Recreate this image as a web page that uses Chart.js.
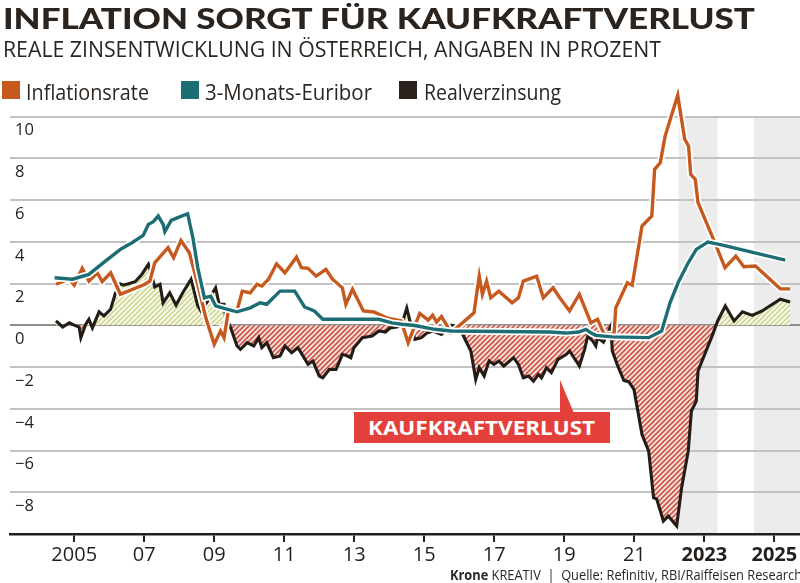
<!DOCTYPE html>
<html lang="de">
<head>
<meta charset="utf-8">
<title>Inflation sorgt für Kaufkraftverlust</title>
<script src="https://cdn.jsdelivr.net/npm/chart.js@4.4.1/dist/chart.umd.min.js"></script>
<style>
  html, body { margin: 0; padding: 0; background: #fff; }
  #wrap { position: relative; width: 800px; height: 583px; overflow: hidden; background: #fff; }
  #c { position: absolute; left: 0; top: 0; }
  .t { position: absolute; white-space: nowrap; transform-origin: 0 0; color: #2a2420; margin: 0; }
  #title { font-family: Lato, "Open Sans", sans-serif; font-weight: 900; font-size: 29px; color: #2b231d; }
  #subtitle { font-family: "Open Sans", sans-serif; font-weight: 400; font-size: 21px; color: #2b2622; }
  .leg { font-family: "Open Sans", sans-serif; font-weight: 400; font-size: 21px; color: #2b2622; }
  .sq { position: absolute; width: 18px; height: 18px; top: 81px; }
  #footer { font-family: "Open Sans", sans-serif; font-size: 14px; color: #2b2622; }
  #footer b { font-weight: 700; }
  #calloutBox { position: absolute; background: #e4403b; }
  #calloutTip { position: absolute; background: #e4403b; clip-path: polygon(0 0, 0 100%, 100% 100%); }
  #callout { font-family: "Open Sans", sans-serif; font-weight: 700; font-size: 20px; color: #fff; }
</style>
</head>
<body>
<div id="wrap">
  <canvas id="c" width="800" height="583"></canvas>
  <div class="t" id="title">INFLATION SORGT FÜR KAUFKRAFTVERLUST</div>
  <div class="t" id="subtitle">REALE ZINSENTWICKLUNG IN ÖSTERREICH, ANGABEN IN PROZENT</div>
  <div class="sq" style="left:2px;background:#c65a1e"></div>
  <div class="t leg" id="leg1">Inflationsrate</div>
  <div class="sq" style="left:181px;background:#1d6d74"></div>
  <div class="t leg" id="leg2">3-Monats-Euribor</div>
  <div class="sq" style="left:399px;background:#2a211c"></div>
  <div class="t leg" id="leg3">Realverzinsung</div>
  <div id="calloutTip"></div>
  <div id="calloutBox"></div>
  <div class="t" id="callout">KAUFKRAFTVERLUST</div>
  <div class="t" id="footer"><b>Krone</b> KREATIV&nbsp; | &nbsp;Quelle: Refinitiv, RBI/Raiffeisen Research</div>
</div>
<script>
// ---------- data ----------
const tickYears = [2005, 2007, 2009, 2011, 2013, 2015, 2017, 2019, 2021, 2023, 2025];
const forecastBands = [[2022.26, 2023.38], [2024.42, 2026.0]];

const inflationX = [2004.48,2004.86,2005.00,2005.23,2005.42,2005.66,2005.80,2006.04,2006.32,2007.02,2007.16,2007.30,2007.68,2007.84,2008.05,2008.29,2008.53,2008.76,2009.00,2009.18,2009.28,2009.42,2009.65,2009.80,2010.03,2010.22,2010.36,2010.55,2010.78,2011.02,2011.35,2011.49,2011.68,2011.91,2012.19,2012.38,2012.66,2012.76,2012.95,2013.26,2013.56,2013.93,2014.34,2014.54,2014.87,2015.11,2015.24,2015.35,2015.49,2015.77,2016.42,2016.57,2016.66,2016.78,2016.90,2017.13,2017.51,2017.69,2017.83,2018.21,2018.40,2018.68,2018.87,2019.15,2019.43,2019.76,2019.95,2020.14,2020.42,2020.47,2020.80,2020.94,2021.22,2021.50,2021.58,2021.74,2021.88,2022.24,2022.44,2022.55,2022.61,2022.74,2022.82,2023.24,2023.59,2023.90,2024.13,2024.46,2025.17,2025.45];
const inflationY = [1.97,2.21,1.93,2.73,2.12,2.52,2.09,2.52,1.49,1.97,2.12,3.00,3.72,3.24,4.07,3.48,1.97,0.36,-0.91,-0.27,-0.59,0.84,0.69,1.64,1.56,1.97,1.88,2.21,2.95,2.52,3.27,2.76,2.73,2.36,2.68,2.21,1.80,1.01,1.73,0.69,0.64,0.36,0.21,-0.83,0.57,0.25,0.49,0.16,0.42,-0.35,0.60,2.36,1.49,2.12,1.32,1.64,1.08,1.32,2.12,2.36,1.32,1.80,1.32,0.69,1.49,0.12,0.29,-0.43,-0.43,0.84,2.04,1.92,4.76,5.24,7.48,7.79,9.07,11.03,8.92,8.60,7.24,7.00,5.88,4.20,2.76,3.32,2.81,2.84,1.75,1.75];

const euriborX = [2004.44,2004.95,2005.42,2005.89,2006.32,2006.65,2006.97,2007.12,2007.26,2007.40,2007.54,2007.59,2007.77,2007.96,2008.24,2008.39,2008.53,2008.72,2008.90,2009.04,2009.28,2009.65,2010.03,2010.31,2010.50,2010.88,2011.30,2011.58,2011.86,2012.10,2013.70,2014.07,2014.36,2014.73,2015.30,2015.77,2018.59,2019.05,2019.41,2019.62,2019.75,2019.90,2020.37,2021.41,2021.78,2022.02,2022.25,2022.54,2022.77,2023.10,2023.43,2025.31];
const euriborY = [2.28,2.21,2.44,3.08,3.64,3.96,4.31,4.84,4.97,5.24,4.84,4.49,5.03,5.16,5.35,4.20,2.76,1.32,1.40,0.93,0.81,0.65,0.84,1.08,1.01,1.64,1.64,0.88,0.69,0.29,0.29,0.12,0.05,-0.01,-0.19,-0.27,-0.32,-0.37,-0.32,-0.19,-0.35,-0.48,-0.55,-0.59,-0.27,1.08,2.04,3.00,3.64,3.99,3.88,3.13];

const realX = [2004.48,2004.67,2004.86,2005.00,2005.14,2005.19,2005.33,2005.42,2005.52,2005.71,2005.85,2006.04,2006.18,2006.32,2006.41,2006.55,2006.74,2006.93,2007.12,2007.21,2007.30,2007.45,2007.54,2007.73,2007.91,2008.10,2008.34,2008.53,2008.62,2008.81,2009.04,2009.14,2009.28,2009.32,2009.47,2009.65,2009.75,2009.94,2010.13,2010.27,2010.36,2010.50,2010.69,2010.88,2011.02,2011.21,2011.39,2011.68,2011.82,2012.00,2012.10,2012.29,2012.48,2012.66,2012.81,2012.90,2012.99,2013.23,2013.51,2013.70,2013.89,2014.03,2014.22,2014.36,2014.50,2014.59,2014.73,2014.92,2015.07,2015.25,2015.49,2015.77,2016.00,2016.19,2016.33,2016.47,2016.57,2016.71,2016.85,2016.99,2017.13,2017.27,2017.55,2017.69,2017.83,2017.98,2018.12,2018.26,2018.35,2018.49,2018.63,2018.82,2019.06,2019.15,2019.34,2019.43,2019.58,2019.67,2019.81,2019.90,2019.95,2020.12,2020.33,2020.37,2020.51,2020.70,2020.84,2020.99,2021.22,2021.41,2021.55,2021.64,2021.83,2021.97,2022.21,2022.35,2022.54,2022.63,2022.77,2022.82,2023.01,2023.24,2023.38,2023.60,2023.85,2024.09,2024.37,2024.65,2025.17,2025.45];
const realY = [0.21,-0.08,0.12,0.01,-0.08,-0.59,0.05,0.29,-0.12,0.65,0.45,0.77,1.56,1.99,1.93,1.99,2.09,2.44,2.92,2.44,1.84,1.97,1.08,1.56,0.97,1.56,2.21,0.93,0.69,1.16,1.80,1.01,1.01,0.45,-0.12,-0.99,-1.15,-0.83,-0.99,-0.59,-1.07,-0.83,-1.55,-1.47,-0.99,-1.31,-1.07,-1.87,-1.71,-2.43,-2.51,-2.11,-2.11,-1.39,-1.47,-1.55,-1.07,-0.59,-0.51,-0.27,-0.32,-0.12,-0.08,0.05,0.83,0.21,-0.67,-0.59,-0.37,-0.27,-0.43,0.01,-0.08,-0.75,-1.23,-2.59,-2.03,-2.43,-1.71,-1.87,-1.71,-1.95,-1.55,-1.87,-2.51,-2.43,-2.67,-2.35,-2.51,-2.03,-2.27,-1.63,-1.39,-1.23,-1.71,-1.95,-1.15,-0.51,-0.75,-0.99,-0.59,-0.80,-0.03,-1.23,-1.87,-2.64,-2.70,-3.07,-5.23,-6.03,-8.26,-8.33,-9.38,-9.14,-9.62,-7.79,-6.03,-4.11,-3.63,-2.19,-1.39,-0.43,0.21,0.93,0.21,0.65,0.48,0.69,1.25,1.12];

// ---------- helpers ----------
const pts = (xs, ys) => xs.map((x, i) => ({ x, y: ys[i] }));
const canvas = document.getElementById('c');
const cctx = canvas.getContext('2d');

function hatch(bg, fg, size, lw) {
  const c = document.createElement('canvas');
  c.width = size; c.height = size;
  const g = c.getContext('2d');
  g.fillStyle = bg; g.fillRect(0, 0, size, size);
  g.strokeStyle = fg; g.lineWidth = lw; g.lineCap = 'square';
  g.beginPath();
  g.moveTo(-1, size + 1); g.lineTo(size + 1, -1);
  g.moveTo(-1, 1); g.lineTo(1, -1);
  g.moveTo(size - 1, size + 1); g.lineTo(size + 1, size - 1);
  g.stroke();
  return cctx.createPattern(c, 'repeat');
}
const redHatch = hatch('#f7dcd4', '#c9493d', 5, 1.5);
const greenHatch = hatch('#f6f7e6', '#c8d48c', 5, 1.4);

const bandPlugin = {
  id: 'bands',
  beforeDraw(chart) {
    const { ctx, chartArea, scales: { x } } = chart;
    ctx.save();
    ctx.fillStyle = '#ececec';
    for (const [a, b] of forecastBands) {
      const x1 = Math.max(x.getPixelForValue(a), chartArea.left);
      const x2 = Math.min(x.getPixelForValue(b), chartArea.right);
      ctx.fillRect(x1, chartArea.top, x2 - x1, chartArea.bottom - chartArea.top);
    }
    ctx.restore();
  }
};

const FONT = '"Open Sans", sans-serif';

new Chart(canvas, {
  type: 'line',
  data: {
    datasets: [
      { label: '3-Monats-Euribor', data: pts(euriborX, euriborY), borderColor: '#1d6d74', borderWidth: 3.4, order: 0, clip: false },
      { label: 'halo2', data: pts(euriborX, euriborY), borderColor: '#ffffff', borderWidth: 7, order: 1, clip: false },
      { label: 'Inflationsrate', data: pts(inflationX, inflationY), borderColor: '#c65a1e', borderWidth: 3.4, order: 2, clip: false },
      { label: 'halo1', data: pts(inflationX, inflationY), borderColor: '#ffffff', borderWidth: 7, order: 3, clip: false },
      { label: 'Realverzinsung', data: pts(realX, realY), borderColor: '#231c17', borderWidth: 3.1, order: 4,
        fill: { target: 'origin', above: greenHatch, below: redHatch } }
    ]
  },
  options: {
    responsive: false,
    animation: false,
    devicePixelRatio: 1,
    layout: { padding: { top: 116.7, left: 0, right: 0, bottom: 0 }, autoPadding: false },
    elements: { point: { radius: 0, hoverRadius: 0 }, line: { tension: 0, borderJoinStyle: 'miter', borderCapStyle: 'butt' } },
    plugins: { legend: { display: false }, tooltip: { enabled: false }, title: { display: false } },
    events: [],
    scales: {
      x: {
        type: 'linear',
        min: 2003.166,
        max: 2025.733,
        afterBuildTicks: (s) => { s.ticks = tickYears.map(v => ({ value: v })); },
        afterFit: (s) => { s.height = 49; },
        ticks: {
          autoSkip: false, maxRotation: 0, padding: 1, color: '#231f1c',
          callback: (v) => (v === 2005 || v >= 2023) ? String(v) : String(v).slice(2),
          font: (c) => ({ family: FONT, size: 20, weight: (c.tick && c.tick.value >= 2023) ? '700' : '400' })
        },
        grid: { display: true, drawOnChartArea: false, drawTicks: true, tickLength: 8, color: '#231f1c', lineWidth: 2 },
        border: { display: true, color: '#231f1c', width: 2.5 }
      },
      y: {
        min: -10, max: 10,
        ticks: {
          stepSize: 2, mirror: true, padding: 5, labelOffset: 14, color: '#231f1c',
          font: { family: FONT, size: 16.5 },
          callback: (v) => v === -10 ? '' : (v < 0 ? '\u2212' + Math.abs(v) : String(v))
        },
        grid: { drawTicks: false, color: (c) => c.tick && c.tick.value === 0 ? '#8d8d8d' : '#c2c2c2', lineWidth: 2 },
        border: { display: false }
      }
    }
  },
  plugins: [bandPlugin]
});

// ---------- text placement ----------
const mctx = document.createElement('canvas').getContext('2d');
function place(id, x, baseline, width) {
  const el = document.getElementById(id);
  const cs = getComputedStyle(el);
  const F = parseFloat(cs.fontSize);
  mctx.font = cs.fontStyle + ' ' + cs.fontWeight + ' ' + F + 'px ' + cs.fontFamily;
  const m = mctx.measureText('Hg');
  const A = m.fontBoundingBoxAscent, D = m.fontBoundingBoxDescent;
  el.style.lineHeight = F + 'px';
  const off = (F - (A + D)) / 2 + A;
  el.style.left = x + 'px';
  el.style.top = (baseline - off) + 'px';
  const w = el.getBoundingClientRect().width;
  el.style.transform = 'scaleX(' + (width / w) + ')';
}
place('title', 3, 29, 752);
place('subtitle', 3, 57, 658);
place('leg1', 26, 100, 123);
place('leg2', 205, 100, 167);
place('leg3', 424, 100, 137);
place('callout', 368, 435, 227);
place('footer', 450, 580.5, 352);

const box = document.getElementById('calloutBox');
Object.assign(box.style, { left: '354px', top: '411.7px', width: '256px', height: '31px' });
const tip = document.getElementById('calloutTip');
Object.assign(tip.style, { left: '560px', top: '380px', width: '13.5px', height: '32px' });
</script>
</body>
</html>
